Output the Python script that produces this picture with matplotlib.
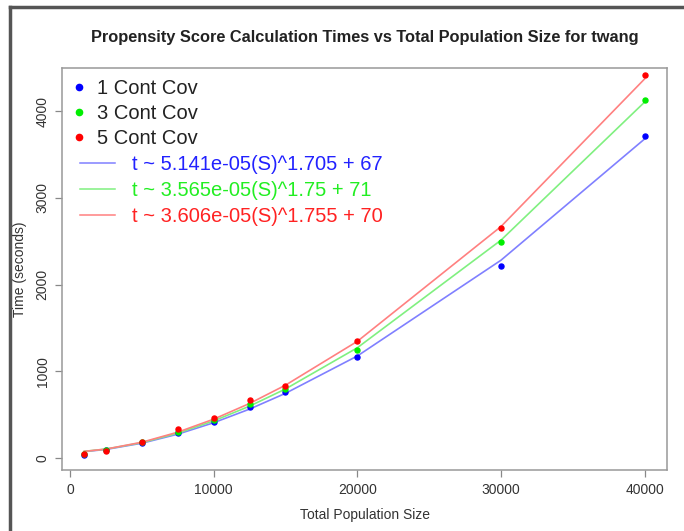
import matplotlib.pyplot as plt
from matplotlib.lines import Line2D

plt.rcParams['font.family'] = ['Liberation Sans', 'DejaVu Sans']

# population sizes
sizes = [1000, 2500, 5000, 7500, 10000, 12500, 15000, 20000, 30000, 40000]

time_1cov = [40, 88, 178, 290, 415, 590, 765, 1170, 2215, 3710]
time_3cov = [42, 88, 180, 300, 440, 620, 790, 1240, 2490, 4125]
time_5cov = [45, 82, 190, 330, 460, 670, 835, 1350, 2650, 4415]

# fitted values of the power-law curves at each size
fit_1cov = [74, 99, 171, 275, 407, 564, 746, 1176, 2280, 3678]
fit_3cov = [77, 103, 177, 287, 428, 598, 796, 1271, 2511, 4103]
fit_5cov = [77, 103, 182, 298, 448, 629, 840, 1345, 2668, 4370]

point_labels = ['1 Cont Cov', '3 Cont Cov', '5 Cont Cov']
fit_labels = ['t ~ 5.141e-05(S)^1.705 + 67',
              't ~ 3.565e-05(S)^1.75 + 71',
              't ~ 3.606e-05(S)^1.755 + 70']
colors = ['#0000ff', '#00ee00', '#ff0000']
line_colors = ['#8080ff', '#80f080', '#ff8080']

fig = plt.figure(figsize=(6.84, 5.31), dpi=100)
ax = fig.add_axes([62 / 684, 1 - 470 / 531, 605 / 684, 402 / 531])

for fit, c in zip([fit_1cov, fit_3cov, fit_5cov], line_colors):
    ax.plot(sizes, fit, color=c, lw=1.2)
for t, c in zip([time_1cov, time_3cov, time_5cov], colors):
    ax.scatter(sizes, t, color=c, s=13, zorder=3)

ax.set_xlim(-560, 41560)
ax.set_ylim(-138, 4496)
ax.set_xticks([0, 10000, 20000, 30000, 40000])
ax.set_yticks([0, 1000, 2000, 3000, 4000])
ax.tick_params(length=5, width=0.9, color='#888888', labelsize=10,
               labelcolor='#333333', pad=4)
for lbl in ax.get_yticklabels():
    lbl.set_rotation(90)
    lbl.set_va('center')
for sp in ax.spines.values():
    sp.set_color('#999999')
    sp.set_linewidth(1.1)

ax.set_xlabel('Total Population Size', fontsize=10, color='#333333', labelpad=8)
ax.set_ylabel('Time (seconds)', fontsize=10, color='#333333', labelpad=6)
ax.set_title('Propensity Score Calculation Times vs Total Population Size for twang',
             fontsize=11.8, fontweight='bold', color='#222222', pad=19)

pt_handles = [Line2D([], [], marker='o', ls='none', color=c, markersize=4.5)
              for c in colors]
leg1 = ax.legend(pt_handles, point_labels, loc='upper left', frameon=False,
                 fontsize=14.5, handlelength=0.8, handletextpad=0.5,
                 labelspacing=0.28, bbox_to_anchor=(-0.018, 1.022), borderaxespad=0.6)
for txt in leg1.get_texts():
    txt.set_color('#222222')
ax.add_artist(leg1)

ln_handles = [Line2D([], [], color=c, lw=1.1) for c in line_colors]
leg2 = ax.legend(ln_handles, fit_labels, loc='upper left', frameon=False,
                 fontsize=14.5, handlelength=1.7, handletextpad=0.85,
                 labelspacing=0.33, bbox_to_anchor=(-0.003, 0.833), borderaxespad=0.6)
for txt, c in zip(leg2.get_texts(), ['#2222ff', '#22ee22', '#ff2222']):
    txt.set_color(c)

# screenshot frame on the left and top
fig.add_artist(Line2D([10 / 684, 10 / 684], [0, 1 - 7 / 531], color='#555555', lw=2.5))
fig.add_artist(Line2D([10 / 684, 1], [1 - 7 / 531, 1 - 7 / 531], color='#555555', lw=2.5))

fig.savefig('out.png', dpi=100)
